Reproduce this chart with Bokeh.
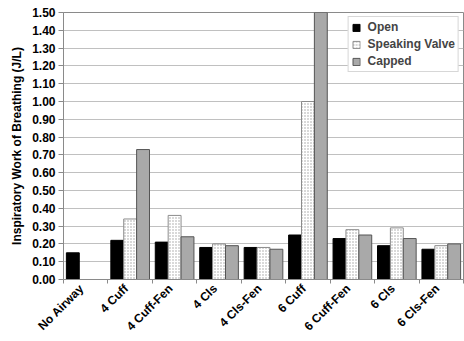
import math
from bokeh.plotting import figure
from bokeh.models import (FixedTicker, NumeralTickFormatter, Legend, LegendItem,
                          Range1d, CustomJSTickFormatter)
from bokeh.embed import file_html
from bokeh.resources import INLINE

categories = ["No Airway", "4 Cuff", "4 Cuff-Fen", "4 Cls", "4 Cls-Fen",
              "6 Cuff", "6 Cuff-Fen", "6 Cls", "6 Cls-Fen"]
open_vals = [0.15, 0.22, 0.21, 0.18, 0.18, 0.25, 0.23, 0.19, 0.17]
valve_vals = [None, 0.34, 0.36, 0.20, 0.18, 1.00, 0.28, 0.29, 0.19]
capped_vals = [None, 0.73, 0.24, 0.19, 0.17, 1.50, 0.25, 0.23, 0.20]
series_names = ["Open", "Speaking Valve", "Capped"]
y_ticks = [0.0, 0.1, 0.2, 0.3, 0.4, 0.5, 0.6, 0.7, 0.8, 0.9, 1.0, 1.1, 1.2, 1.3, 1.4, 1.5]
y_title = "Inspiratory Work of Breathing (J/L)"

FONT = "Liberation Sans"
AXIS_GRAY = "#8a8a8a"
BAR_W = 0.29
offsets = [-BAR_W, 0.0, BAR_W]
Y_MAX = 1.5
LABEL_SHIFT = 0.41       # label anchor inside each category slot


def series_xy(vals, off):
    xs, ys = [], []
    for i, v in enumerate(vals):
        if v is not None:
            xs.append(i + 0.5 + off)
            ys.append(v)
    return xs, ys


n = len(categories)
p = figure(width=464, height=341, x_range=Range1d(0, n),
           y_range=Range1d(0, Y_MAX), output_backend="svg",
           toolbar_location=None,
           min_border_left=63, min_border_right=1, min_border_top=12,
           min_border_bottom=62)
p.background_fill_color = "white"
p.border_fill_color = "white"
p.outline_line_color = AXIS_GRAY

x0, y0 = series_xy(open_vals, offsets[0])
x1, y1 = series_xy(valve_vals, offsets[1])
x2, y2 = series_xy(capped_vals, offsets[2])

r0 = p.vbar(x=x0, top=y0, bottom=0, width=BAR_W, fill_color="black",
            line_color="black", line_width=1)
r1 = p.vbar(x=x1, top=y1, bottom=0, width=BAR_W, fill_color="white",
            line_color="#8c8c8c", line_width=1, hatch_pattern="dot",
            hatch_color="#a0a0a0", hatch_scale=3, hatch_weight=1)
r2 = p.vbar(x=x2, top=y2, bottom=0, width=BAR_W, fill_color="#a9a9a9",
            line_color="#555555", line_width=1)

legend = Legend(items=[LegendItem(label=series_names[0], renderers=[r0]),
                       LegendItem(label=series_names[1], renderers=[r1]),
                       LegendItem(label=series_names[2], renderers=[r2])],
                location="top_right")
legend.margin = 4
legend.padding = 3
legend.spacing = 3
legend.glyph_width = 9
legend.glyph_height = 9
legend.label_height = 12
legend.label_standoff = 7
legend.label_text_font = FONT
legend.label_text_font_style = "bold"
legend.label_text_font_size = "12px"
legend.border_line_color = "#b0b0b0"
legend.background_fill_alpha = 1.0
p.add_layout(legend)

# Y axis
p.yaxis.ticker = FixedTicker(ticks=y_ticks)
p.yaxis.formatter = NumeralTickFormatter(format="0.00")
p.yaxis.axis_label = y_title
p.yaxis.axis_label_text_font = FONT
p.yaxis.axis_label_text_font_style = "bold"
p.yaxis.axis_label_text_font_size = "12px"
p.yaxis.axis_label_standoff = 5
p.yaxis.major_label_text_font = FONT
p.yaxis.major_label_text_font_style = "bold"
p.yaxis.major_label_text_font_size = "12px"
p.yaxis.major_label_standoff = 3
p.yaxis.major_tick_out = 5
p.yaxis.major_tick_in = 0
p.yaxis.minor_tick_line_color = None
p.yaxis.axis_line_color = AXIS_GRAY
p.yaxis.major_tick_line_color = AXIS_GRAY
p.yaxis.major_label_text_color = "black"
p.yaxis.axis_label_text_color = "black"

# X axis: boundary ticks, slanted category labels
bounds = [i for i in range(n + 1)]
label_pos = [i + LABEL_SHIFT for i in range(n)]
p.xaxis.ticker = FixedTicker(ticks=label_pos, minor_ticks=bounds)
p.xaxis.formatter = CustomJSTickFormatter(args=dict(cats=categories),
                                          code="return cats[Math.floor(tick)] || ''")
p.xaxis.major_tick_line_color = None
p.xaxis.major_tick_out = 0
p.xaxis.major_tick_in = 0
p.xaxis.minor_tick_out = 4
p.xaxis.minor_tick_in = 0
p.xaxis.minor_tick_line_color = AXIS_GRAY
p.xaxis.axis_line_color = AXIS_GRAY
p.xaxis.major_label_orientation = math.pi / 4
p.xaxis.major_label_standoff = 3
p.xaxis.major_label_text_font = FONT
p.xaxis.major_label_text_font_style = "bold"
p.xaxis.major_label_text_font_size = "12px"
p.xaxis.major_label_text_color = "black"

p.xgrid.visible = False
p.ygrid.grid_line_color = "#c0c0c0"
p.ygrid.grid_line_width = 1

open("out.html", "w").write(file_html(p, INLINE))
